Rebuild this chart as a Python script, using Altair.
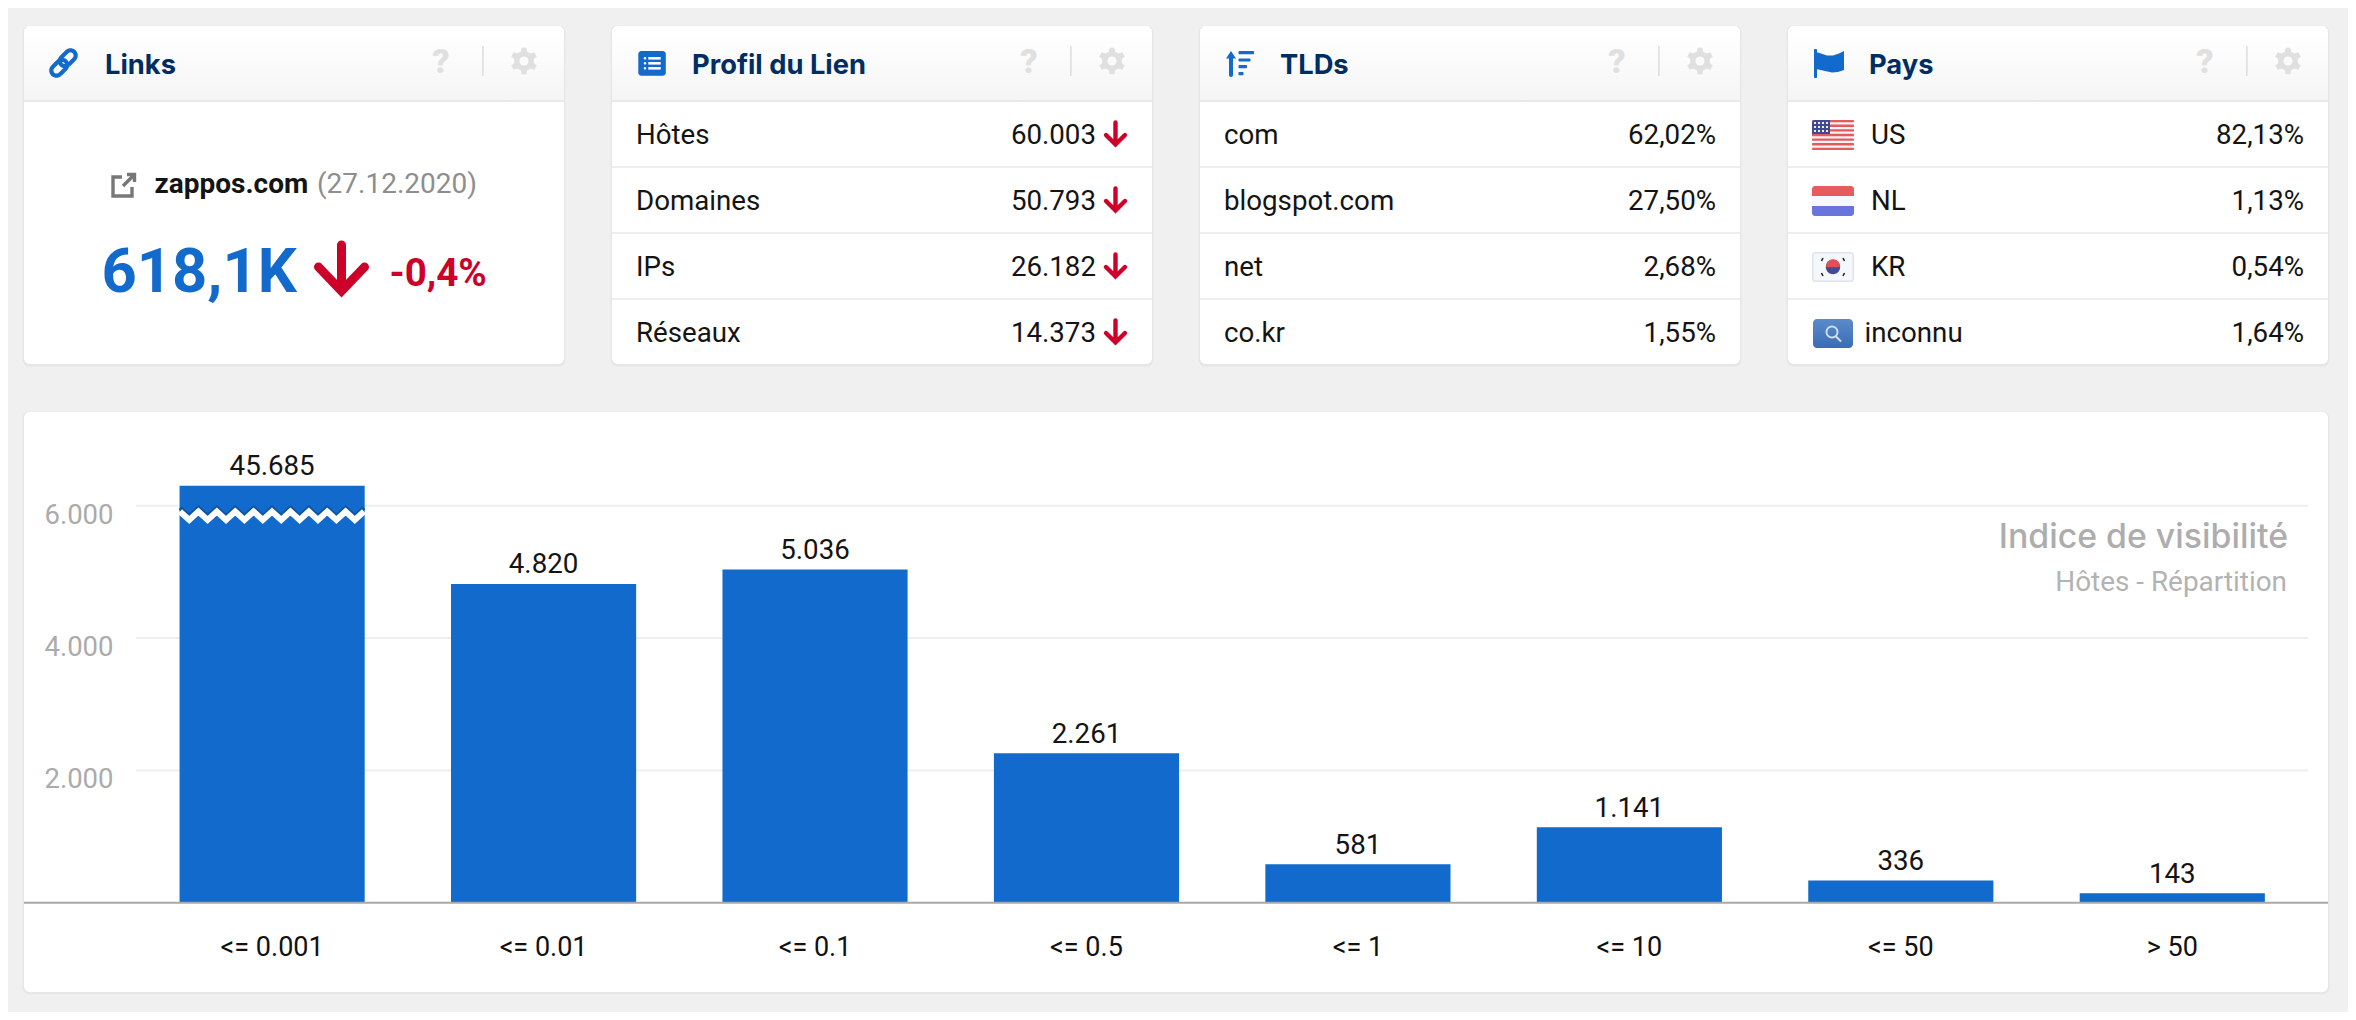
import math
import altair as alt
import pandas as pd

# ---------- values ----------
profil_labels = ["Hôtes", "Domaines", "IPs", "Réseaux"]
profil_values = ["60.003", "50.793", "26.182", "14.373"]
tld_labels = ["com", "blogspot.com", "net", "co.kr"]
tld_values = ["62,02%", "27,50%", "2,68%", "1,55%"]
pays_labels = ["US", "NL", "KR", "inconnu"]
pays_values = ["82,13%", "1,13%", "0,54%", "1,64%"]
bar_categories = ["<= 0.001", "<= 0.01", "<= 0.1", "<= 0.5", "<= 1", "<= 10", "<= 50", "> 50"]
bar_values = [45685, 4820, 5036, 2261, 581, 1141, 336, 143]
bar_drawn = [6304, 4820, 5036, 2261, 581, 1141, 336, 143]  # first bar is cut by the axis break
y_ticks = [2000, 4000, 6000]

BLUE = "#116acc"
RED = "#cc0029"
NAVY = "#002d62"
INK = "#141414"
OFF = 8  # page margin: reference coordinates -> chart coordinates
W, H = 2340, 1004
FONT = "Roboto"
BODY = 27.7

layers = []
one = alt.Data(values=[{"a": 1}])


def rect(x0, x1, y0, y1, color, **kw):
    layers.append(
        alt.Chart(one).mark_rect(color=color, opacity=1, **kw).encode(
            x=alt.value(x0 - OFF), x2=alt.value(x1 - OFF), y=alt.value(y0 - OFF), y2=alt.value(y1 - OFF)
        )
    )


def txt(s, x, y, size, color=INK, align="left", weight=400, font=FONT):
    layers.append(
        alt.Chart(one).mark_text(
            text=s, align=align, baseline="alphabetic", fontSize=size, color=color, fontWeight=weight, font=font
        ).encode(x=alt.value(x - OFF), y=alt.value(y - OFF))
    )


def to_path(subpaths, close=False):
    out = []
    for pts in subpaths:
        out.append("M" + " L".join(f"{px - OFF:.2f},{py - OFF:.2f}" for px, py in pts) + ("Z" if close else ""))
    return " ".join(out)


def shape(subpaths, color, fill=True, width=2.0, cap="butt", join="miter"):
    # size 4 makes the symbol's unit one pixel; anchored at the chart's origin
    path = to_path(subpaths, close=fill)
    kw = {} if fill else {"strokeWidth": width, "strokeCap": cap, "strokeJoin": join}
    layers.append(
        alt.Chart(one).mark_point(shape=path, size=4, filled=fill, color=color, opacity=1, **kw).encode(
            x=alt.value(0), y=alt.value(0)
        )
    )


def circle_pts(cx, cy, r, a0=0.0, a1=360.0, n=28):
    return [(cx + r * math.cos(math.radians(a0 + (a1 - a0) * i / n)),
             cy + r * math.sin(math.radians(a0 + (a1 - a0) * i / n))) for i in range(n + 1)]


def capsule(x0, y0, x1, y1, r):
    a = math.degrees(math.atan2(y1 - y0, x1 - x0))
    return circle_pts(x1, y1, r, a - 90, a + 90, 10) + circle_pts(x0, y0, r, a + 90, a + 270, 10) + [
        (x1 + r * math.cos(math.radians(a - 90)), y1 + r * math.sin(math.radians(a - 90)))
    ]


def gear(cx, cy, ro, ri, hole, teeth=6):
    pts = []
    step = 360 / teeth
    for k in range(teeth):
        a = k * step - 90
        for da, r in [(-step * .30, ri), (-step * .17, ro), (step * .17, ro), (step * .30, ri)]:
            pts.append((cx + r * math.cos(math.radians(a + da)), cy + r * math.sin(math.radians(a + da))))
    return [pts, circle_pts(cx, cy, hole, 360, 0, 20)]


def card(x0, x1, y0=26, y1=364):
    rect(x0 - 1.5, x1 + 1.5, y0 - .5, y1 + 2.5, "#e7e7e7", cornerRadius=7)
    rect(x0, x1, y0, y1, "#ffffff", cornerRadius=6)


def header(x0, x1, title, tx):
    grad = alt.LinearGradient(
        gradient="linear", x1=0, x2=0, y1=0, y2=1,
        stops=[alt.GradientStop(color="#ffffff", offset=0.1), alt.GradientStop(color="#f5f5f5", offset=1)],
    )
    rect(x0, x1, 26, 100, grad, cornerRadiusTopLeft=6, cornerRadiusTopRight=6)
    rect(x0, x1, 100, 102, "#e8e8e8")
    txt(title, tx, 74, 27.3, NAVY, weight=700, font="Inter")
    txt("?", x0 + 417, 73, 34, "#e0e0e0", align="center", weight=900)
    rect(x0 + 458, x0 + 459.7, 46, 76, "#e0e0e0")
    shape(gear(x0 + 500, 61, 13.5, 10, 4.5), "#e0e0e0")


def separators(x0, x1):
    for y in (166, 232, 298):
        rect(x0, x1, y, y + 2, "#eeeeee")


ROW_BASE = [144, 210, 276, 342]
CARDS = [(24, 564), (612, 1152), (1200, 1740), (1788, 2328)]

for c in CARDS:
    card(*c)
card(24, 2328, 412, 992)

# --- Links card
header(24, 564, "Links", 105)
shape([capsule(70.5, 55.5, 65, 61, 5.2), capsule(62, 65, 56.5, 70.5, 5.2)], BLUE, fill=False, width=4.2)
shape([[(122, 177), (113, 177), (113, 196), (132, 196), (132, 187)], [(123, 186), (134, 175)], [(127, 174.5), (134.5, 174.5), (134.5, 182)]],
      "#777777", fill=False, width=3.4)
txt("zappos.com", 154.5, 193, 28, INK, weight=700)
txt("(27.12.2020)", 317, 193, 28, "#8e8e8e")
txt("618,1K", 101.5, 291.7, 61.5, BLUE, weight=700)
shape([[(341.5, 245), (341.5, 288)], [(318.5, 267), (341.5, 291), (364.5, 267)]], RED, fill=False, width=9, cap="round", join="miter")
txt("-0,4%", 389.5, 286, 38.5, RED, weight=700)

# --- Profil du Lien
x0, x1 = CARDS[1]
header(x0, x1, "Profil du Lien", 692)
rect(638.3, 665.8, 51, 75.7, BLUE, cornerRadius=3)
for yy in (58.3, 63.3, 68.3):
    rect(643.7, 646.3, yy - 1.3, yy + 1.3, "#ffffff", cornerRadius=1.3)
    rect(648.3, 660.7, yy - 1.3, yy + 1.3, "#ffffff")
separators(x0, x1)
for lab, val, y in zip(profil_labels, profil_values, ROW_BASE):
    txt(lab, x0 + 24, y, BODY)
    txt(val, x1 - 56, y, BODY, align="right")
    ax = x1 - 36.5
    shape([[(ax, y - 21.5), (ax, y - 1)], [(ax - 9.5, y - 9), (ax, y + 0.5), (ax + 9.5, y - 9)]], RED, fill=False, width=4.4, cap="round")

# --- TLDs
x0, x1 = CARDS[2]
header(x0, x1, "TLDs", 1280)
shape([[(1231, 56), (1231, 75)]], BLUE, fill=False, width=4, cap="round")
shape([[(1226, 58.5), (1231, 51), (1236, 58.5)]], BLUE)
for yy, xe in zip((52.7, 60, 66.7, 73.7), (1254, 1250.5, 1247, 1243.5)):
    rect(1238.5, xe, yy - 1.6, yy + 1.6, BLUE, cornerRadius=1)
separators(x0, x1)
for lab, val, y in zip(tld_labels, tld_values, ROW_BASE):
    txt(lab, x0 + 24, y, BODY)
    txt(val, x1 - 24, y, BODY, align="right")

# --- Pays
x0, x1 = CARDS[3]
header(x0, x1, "Pays", 1869)
rect(1814, 1817, 49, 78, BLUE, cornerRadius=1)
shape([[(1816, 52), (1821, 53.5), (1827, 55.5), (1833, 55.5), (1839, 53.5), (1844, 51), (1844, 70), (1838, 72), (1832, 72.5), (1825, 71), (1816, 69)]], BLUE)
separators(x0, x1)
# US flag
rect(1812, 1854, 120, 150, "#f6f4f6", cornerRadius=3)
for i in range(7):
    rect(1812, 1854, 120 + i * 30 / 6.5, 120 + i * 30 / 6.5 + 2.3, "#e55a5a", cornerRadius=1)
rect(1812, 1830, 120, 134, "#3f4a91", cornerRadiusTopLeft=3)
stars = []
for r_i, sy in enumerate((123, 127, 131)):
    for s_i in range(4):
        sx = 1815 + s_i * 4
        stars.append([(sx - .9, sy - .9), (sx + .9, sy - .9), (sx + .9, sy + .9), (sx - .9, sy + .9)])
shape(stars, "#ffffff")
# NL flag
rect(1812, 1854, 186, 196, "#e65c5c", cornerRadiusTopLeft=3, cornerRadiusTopRight=3)
rect(1812, 1854, 196, 206, "#f5f8fc")
rect(1812, 1854, 206, 216, "#6a74dd", cornerRadiusBottomLeft=3, cornerRadiusBottomRight=3)
# KR flag
rect(1812, 1854, 252, 282, "#e0e5ec", cornerRadius=3)
rect(1813.5, 1852.5, 253.5, 280.5, "#f4f7fb", cornerRadius=2)
shape([circle_pts(1833, 267, 7.2)], "#414a94")
shape([circle_pts(1833, 266, 6.8, 170, 370)], "#e0505a")
shape([[(1823, 258), (1821.5, 261)], [(1843, 258), (1844.5, 261)], [(1823, 276), (1821.5, 273)], [(1843, 276), (1844.5, 273)]], "#222222", fill=False, width=1.6)
# unknown country
grad2 = alt.LinearGradient(gradient="linear", x1=0, x2=0, y1=0, y2=1,
                           stops=[alt.GradientStop(color="#5a8ccb", offset=0), alt.GradientStop(color="#3a6cb5", offset=1)])
rect(1813, 1853, 319, 348, grad2, cornerRadius=4)
shape([circle_pts(1832, 332, 5.5), [(1836, 336.5), (1841, 341.5)]], "#d2dff0", fill=False, width=1.9)

label_x = [1871, 1871, 1871, 1864.5]
for lab, val, y, lx in zip(pays_labels, pays_values, ROW_BASE, label_x):
    txt(lab, lx, y, BODY)
    txt(val, x1 - 24, y, BODY, align="right")

# --- bar chart, the only part driven by scales
df = pd.DataFrame({
    "cat": bar_categories,
    "drawn": bar_drawn,
    "label": [f"{v:,}".replace(",", ".") for v in bar_values],
})
grid_df = pd.DataFrame({"tick": y_ticks})
zero_df = pd.DataFrame({"zero": [0]})

x_scale = alt.Scale(domain=bar_categories, range=[128.4, 2300], paddingInner=0.318, paddingOuter=0.159)
y_scale = alt.Scale(domain=[0, 7423], range=[894.7, 403.7], nice=False, zero=False)
x_axis = alt.Axis(title=None, labelAngle=0, domain=False, ticks=False, grid=False, labelFont=FONT, labelFontSize=27,
                  labelColor="#111111", labelPadding=0, labelBaseline="alphabetic", offset=-56.6, zindex=1)
y_axis = alt.Axis(title=None, values=y_ticks, domain=False, ticks=False, grid=False, labelFont=FONT, labelFontSize=27.5,
                  labelColor="#ababab", labelPadding=0, labelBaseline="alphabetic", labelOffset=17.5, offset=-105, zindex=1,
                  labelExpr="replace(format(datum.value, ','), ',', '.')")
x_enc = alt.X("cat:N", sort=bar_categories, scale=x_scale, axis=x_axis)

layers.append(
    alt.Chart(grid_df).mark_rule(color="#eeeeee", strokeWidth=2).encode(
        y=alt.Y("tick:Q", scale=y_scale, axis=y_axis), x=alt.value(128), x2=alt.value(2300)
    )
)
layers.append(
    alt.Chart(df).mark_bar(color=BLUE, opacity=1).encode(
        x=x_enc, y=alt.Y("drawn:Q", scale=y_scale, axis=y_axis, stack=None)
    )
)
layers.append(
    alt.Chart(df).mark_text(baseline="alphabetic", dy=-10.5, font=FONT, fontSize=BODY, color=INK).encode(
        x=x_enc, y=alt.Y("drawn:Q", scale=y_scale, axis=y_axis, stack=None), text="label:N"
    )
)
layers.append(
    alt.Chart(zero_df).mark_rule(color="#a8a8a8", strokeWidth=2).encode(
        y=alt.Y("zero:Q", scale=y_scale, axis=y_axis), x=alt.value(16), x2=alt.value(2320)
    )
)

# axis-break zigzag over the first bar
zig = [(180 + i * 9.2, 511.5 if i % 2 == 0 else 520) for i in range(21)]
shape([[(px, py - 3.8) for px, py in zig]], "#0f53a4", fill=False, width=4)
shape([zig], "#ffffff", fill=False, width=6)

txt("Indice de visibilité", 2288, 548, 33.8, "#adadad", align="right", weight=500, font="Inter")
txt("Hôtes - Répartition", 2287, 590.5, 27.9, "#b3b3b3", align="right")

chart = alt.layer(*layers).properties(
    width=W, height=H, background="#f0f0f0", padding=0,
    autosize=alt.AutoSizeParams(type="none"),
).configure_view(stroke=None)

chart.save("out.html", embed_options={"renderer": "svg", "actions": False})
